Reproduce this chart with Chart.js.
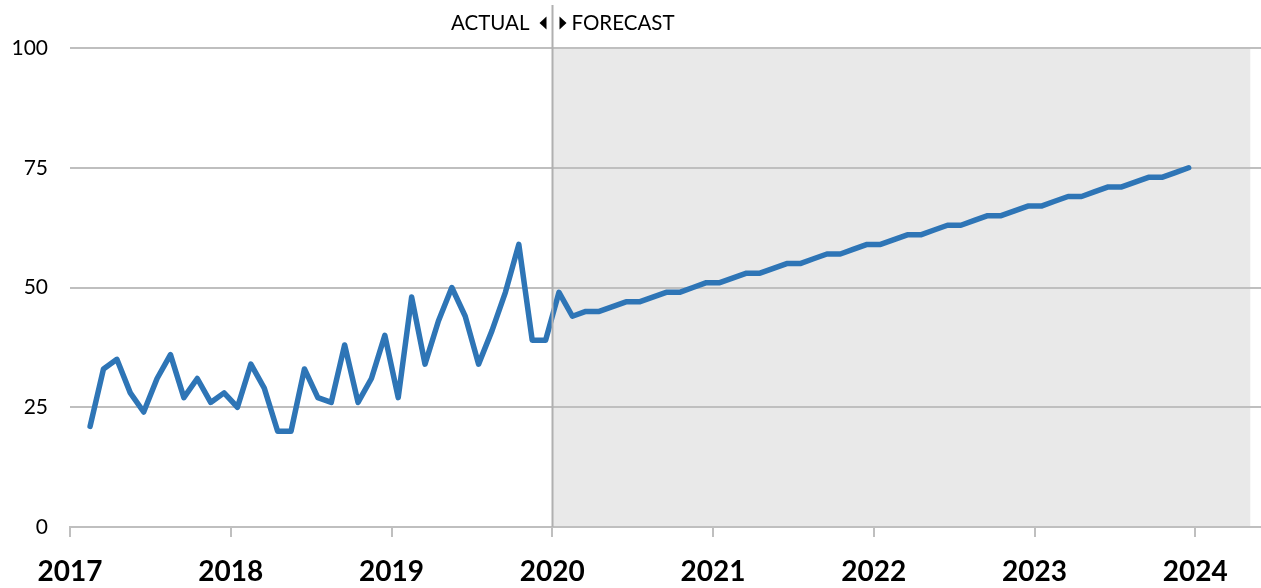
<!DOCTYPE html>
<html>
<head>
<meta charset="utf-8">
<script src="https://cdn.jsdelivr.net/npm/chart.js@4.4.1/dist/chart.umd.min.js"></script>
<style>
    html, body { margin: 0; padding: 0; background: #ffffff; }
    #wrap { width: 1261px; height: 588px; position: relative; }
</style>
</head>
<body>
<div id="wrap"><canvas id="forecastChart"></canvas></div>
<script>
// values, one per month
const actualValues = [21, 33, 35, 28, 24, 31, 36, 27, 31, 26, 28, 25, 34, 29, 20, 20, 33, 27, 26, 38,
    26, 31, 40, 27, 48, 34, 43, 50, 44, 34, 41, 49, 59, 39, 39];
const forecastValues = [49, 44, 45, 45, 46, 47, 47, 48, 49, 49, 50, 51, 51, 52, 53, 53, 54, 55, 55, 56,
    57, 57, 58, 59, 59, 60, 61, 61, 62, 63, 63, 64, 65, 65, 66, 67, 67, 68, 69, 69, 70, 71, 71, 72, 73, 73, 74, 75];
const yearLabels = ['2017', '2018', '2019', '2020', '2021', '2022', '2023', '2024'];
const yTicks = [0, 25, 50, 75, 100];

const firstMonth = 1.5;      // months after the first year tick where the series starts
const forecastStart = 36;    // months after first year tick (2020)
const shadeEnd = 88.1;
const axisEnd = 88.9;

const lineColor = '#2e75b6';
const gridColor = '#bfbfbf';

document.addEventListener('DOMContentLoaded', function () {
    initializeChart();
});

function buildPoints() {
    const all = actualValues.concat(forecastValues);
    return all.map((v, i) => ({ x: firstMonth + i, y: v }));
}

const forecastPlugin = {
    id: 'forecastShade',
    beforeDraw(chart) {
        const { ctx, chartArea, scales } = chart;
        const x0 = scales.x.getPixelForValue(forecastStart);
        const x1 = scales.x.getPixelForValue(shadeEnd);
        ctx.save();
        ctx.fillStyle = '#e9e9e9';
        ctx.fillRect(x0, chartArea.top, x1 - x0, chartArea.bottom - chartArea.top);
        ctx.restore();
    },
    afterDraw(chart) {
        const { ctx, chartArea, scales } = chart;
        const x0 = Math.round(scales.x.getPixelForValue(forecastStart)) + 0.5;
        ctx.save();
        ctx.strokeStyle = '#b0b0b0';
        ctx.lineWidth = 2;
        ctx.beginPath();
        ctx.moveTo(x0, 5);
        ctx.lineTo(x0, chartArea.bottom);
        ctx.stroke();

        const ty = 23;
        ctx.fillStyle = '#000000';
        ctx.font = '20.5px Lato, "Open Sans", sans-serif';
        ctx.textBaseline = 'middle';
        ctx.textAlign = 'right';
        ctx.fillText('ACTUAL', x0 - 23, ty);
        ctx.textAlign = 'left';
        ctx.fillText('FORECAST', x0 + 19, ty);

        // little arrow heads either side of the divider
        ctx.beginPath();
        ctx.moveTo(x0 - 6, ty - 6.5);
        ctx.lineTo(x0 - 6, ty + 6.5);
        ctx.lineTo(x0 - 13, ty);
        ctx.closePath();
        ctx.fill();
        ctx.beginPath();
        ctx.moveTo(x0 + 7, ty - 6.5);
        ctx.lineTo(x0 + 7, ty + 6.5);
        ctx.lineTo(x0 + 14, ty);
        ctx.closePath();
        ctx.fill();
        ctx.restore();
    }
};

function initializeChart() {
    const ctx = document.getElementById('forecastChart').getContext('2d');

    window.forecastChart = new Chart(ctx, {
        type: 'line',
        data: {
            datasets: [{
                label: 'Series',
                data: buildPoints(),
                borderColor: lineColor,
                borderWidth: 5.5,
                pointRadius: 0,
                borderCapStyle: 'round',
                borderJoinStyle: 'round',
                tension: 0,
                fill: false
            }]
        },
        options: {
            responsive: true,
            maintainAspectRatio: false,
            animation: false,
            layout: { padding: { top: 48, right: 0, left: 0, bottom: 0 } },
            plugins: {
                legend: { display: false },
                tooltip: { enabled: false },
                title: { display: false }
            },
            scales: {
                x: {
                    type: 'linear',
                    min: 0,
                    max: axisEnd,
                    afterBuildTicks: (scale) => {
                        scale.ticks = yearLabels.map((_, i) => ({ value: i * 12 }));
                    },
                    afterFit: (scale) => { scale.height = 61; },
                    grid: {
                        drawOnChartArea: false,
                        drawTicks: true,
                        tickLength: 10,
                        color: gridColor,
                        lineWidth: 2
                    },
                    border: { display: true, color: gridColor, width: 2 },
                    ticks: {
                        autoSkip: false,
                        maxRotation: 0,
                        padding: 18,
                        color: '#000000',
                        font: { family: 'Lato, "Open Sans", sans-serif', size: 28, weight: 'bold' },
                        callback: (value) => yearLabels[Math.round(value / 12)]
                    }
                },
                y: {
                    min: 0,
                    max: 100,
                    afterBuildTicks: (scale) => {
                        scale.ticks = yTicks.map(v => ({ value: v }));
                    },
                    afterFit: (scale) => { scale.width = 70; },
                    grid: {
                        drawTicks: false,
                        color: gridColor,
                        lineWidth: 2
                    },
                    border: { display: false },
                    ticks: {
                        padding: 22,
                        color: '#000000',
                        font: { family: 'Lato, "Open Sans", sans-serif', size: 21 }
                    }
                }
            }
        },
        plugins: [forecastPlugin]
    });
}
</script>
</body>
</html>
